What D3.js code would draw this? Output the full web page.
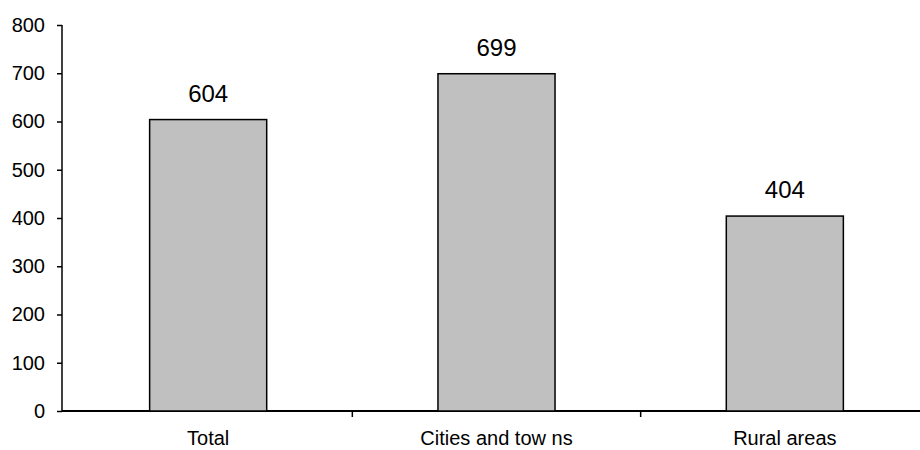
<!DOCTYPE html>
<html>
<head>
<meta charset="utf-8">
<script src="https://cdn.jsdelivr.net/npm/d3@7"></script>
<style>
  body { margin: 0; background: #fff; }
  svg text { font-family: "Liberation Sans", Arial, sans-serif; fill: #000; }
</style>
</head>
<body>
<svg width="920" height="450"></svg>
<script>
// Data
const categories = ['Total', 'Cities and tow ns', 'Rural areas'];
const values = [604, 699, 404];
const yTicks = [0, 100, 200, 300, 400, 500, 600, 700, 800];

const svg = d3.select('svg');

// Scales
const xScale = d3.scaleBand()
  .domain(categories)
  .range([64, 929])
  .paddingInner(0.594)
  .paddingOuter(0.297);

const yScale = d3.scaleLinear()
  .domain([0, 800])
  .range([411, 25]);

// Y axis
const yAxis = svg.append('g')
  .attr('transform', 'translate(62,0)')
  .call(d3.axisLeft(yScale).tickValues(yTicks).tickSize(5).tickPadding(12));
yAxis.selectAll('path, line').attr('stroke', '#000').attr('stroke-width', 1.5);
yAxis.select('.domain').attr('d', 'M0,' + yScale(800) + 'V' + yScale(0));
yAxis.selectAll('text').style('font-size', '20px');

// X axis line and boundary ticks
const gap = (xScale.step() - xScale.bandwidth()) / 2;
svg.append('line')
  .attr('x1', 62).attr('x2', 920)
  .attr('y1', yScale(0)).attr('y2', yScale(0))
  .attr('stroke', '#000').attr('stroke-width', 2);

svg.selectAll('line.xtick')
  .data(categories.slice(1))
  .enter()
  .append('line')
  .attr('class', 'xtick')
  .attr('x1', d => xScale(d) - gap)
  .attr('x2', d => xScale(d) - gap)
  .attr('y1', yScale(0))
  .attr('y2', yScale(0) + 6)
  .attr('stroke', '#000').attr('stroke-width', 1.5);

svg.selectAll('text.xlab')
  .data(categories)
  .enter()
  .append('text')
  .attr('class', 'xlab')
  .attr('x', d => xScale(d) + xScale.bandwidth() / 2)
  .attr('y', 445)
  .attr('text-anchor', 'middle')
  .style('font-size', '20px')
  .text(d => d);

// Bars
svg.selectAll('rect.bar')
  .data(values)
  .enter()
  .append('rect')
  .attr('class', 'bar')
  .attr('x', (d, i) => xScale(categories[i]))
  .attr('width', xScale.bandwidth())
  .attr('y', d => yScale(d))
  .attr('height', d => yScale(0) - yScale(d))
  .attr('fill', '#c0c0c0')
  .attr('stroke', '#000')
  .attr('stroke-width', 1.5);

// Value labels
svg.selectAll('text.val')
  .data(values)
  .enter()
  .append('text')
  .attr('class', 'val')
  .attr('x', (d, i) => xScale(categories[i]) + xScale.bandwidth() / 2)
  .attr('y', d => yScale(d) - 18)
  .attr('text-anchor', 'middle')
  .style('font-size', '24px')
  .text(d => d);
</script>
</body>
</html>
